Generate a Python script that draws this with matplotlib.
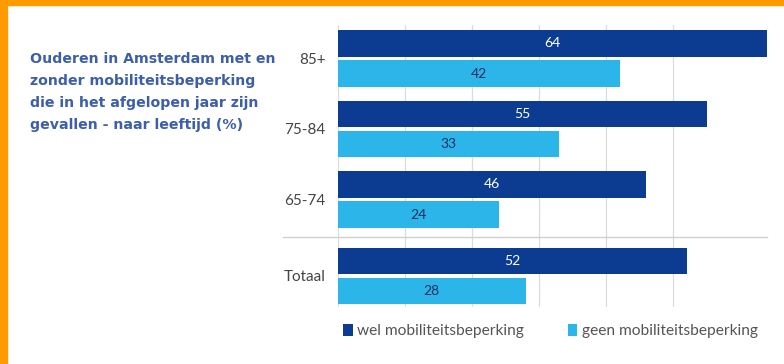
import numpy as np
import matplotlib.pyplot as plt
from matplotlib.patches import Rectangle
from matplotlib.lines import Line2D

# data
categories = ['85+', '75-84', '65-74', 'Totaal']
wel = [64, 55, 46, 52]
geen = [42, 33, 24, 28]
series_names = ['wel mobiliteitsbeperking', 'geen mobiliteitsbeperking']

dark = '#0b3c92'
light = '#2bb5e8'
title_col = '#3d5ea8'

fig = plt.figure(figsize=(7.84, 3.64), dpi=100)
ax = fig.add_axes([338/784, 57/364, 429/784, 282/364])

# group positions, Totaal a bit further down
pos = np.arange(len(categories), dtype=float)
pos[-1] += 0.085
off = 0.213
h = 0.37

b1 = ax.barh(pos - off, wel, height=h, color=dark, zorder=3, label=series_names[0])
b2 = ax.barh(pos + off, geen, height=h, color=light, zorder=3, label=series_names[1])

for bar, v in zip(b1, wel):
    ax.text(bar.get_width()/2, bar.get_y() + bar.get_height()/2, str(v),
            ha='center', va='center', color='white', fontsize=10, family='Lato', zorder=4)
for bar, v in zip(b2, geen):
    ax.text(bar.get_width()/2, bar.get_y() + bar.get_height()/2, str(v),
            ha='center', va='center', color='#1c3060', fontsize=10, family='Lato', zorder=4)

ax.set_xlim(0, 64)
ax.set_ylim(3.525, -0.475)
ax.set_xticks(np.arange(0, 51, 10))
ax.set_xticklabels([])
ax.tick_params(axis='x', length=0)
ax.grid(axis='x', color='#dcdcdc', lw=0.9, zorder=0)
ax.set_yticks(pos)
ax.set_yticklabels(categories, fontsize=11, color='#444444', family='Lato')
ax.tick_params(axis='y', length=0, pad=9)
for s in ax.spines.values():
    s.set_visible(False)

# separator above Totaal
ax.add_line(Line2D([-0.128, 1.0], [2.53, 2.53], color='#d0d0d0', lw=1,
                   transform=ax.get_yaxis_transform(), clip_on=False))

ax.legend(handles=[b1, b2], loc='upper left', bbox_to_anchor=(-0.02, -0.01), ncol=2,
          frameon=False, handlelength=0.6, handleheight=0.8,
          handletextpad=0.3, columnspacing=2.8, labelcolor='#555555',
          prop={'family': 'Lato', 'size': 11.2})

fig.text(30/784, 1 - 52/364, 'Ouderen in Amsterdam met en\nzonder mobiliteitsbeperking\n'
         'die in het afgelopen jaar zijn\ngevallen - naar leeftijd (%)',
         ha='left', va='top', color=title_col, fontsize=10.2, fontweight='bold',
         family='DejaVu Sans', linespacing=1.74)

# orange border left and top
fig.patches.append(Rectangle((0, 0), 7/784, 1, transform=fig.transFigure, color='#ff9a00', zorder=10))
fig.patches.append(Rectangle((0, 1 - 5/364), 1, 5/364, transform=fig.transFigure, color='#ff9a00', zorder=10))

plt.savefig('out.png', dpi=100)
